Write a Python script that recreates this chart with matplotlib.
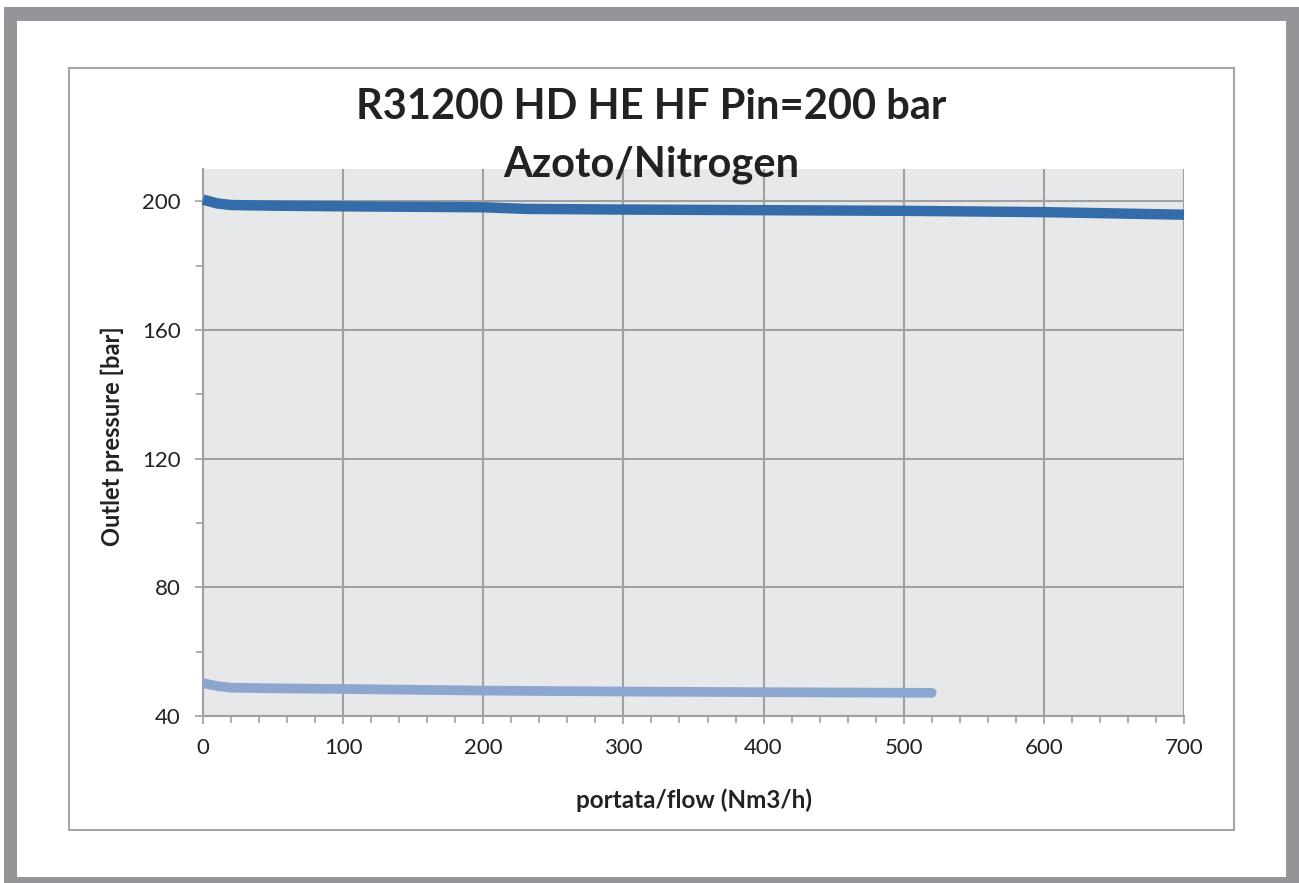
import matplotlib.pyplot as plt
from matplotlib.patches import Rectangle
from matplotlib.ticker import MultipleLocator

# flow (Nm3/h) vs outlet pressure (bar)
flow_high = [0, 10, 20, 50, 100, 200, 230, 300, 400, 500, 600, 700]
p_high = [200.5, 199.3, 198.8, 198.6, 198.4, 198.1, 197.6, 197.4, 197.2, 197.0, 196.6, 195.8]

flow_low = [0, 10, 20, 50, 100, 200, 300, 400, 520]
p_low = [50.2, 49.3, 48.8, 48.6, 48.4, 47.9, 47.6, 47.4, 47.2]

title = 'R31200 HD HE HF Pin=200 bar\nAzoto/Nitrogen'
xlabel = 'portata/flow (Nm3/h)'
ylabel = 'Outlet pressure [bar]'

W, H = 1299, 883
plt.rcParams['font.family'] = ['Lato', 'DejaVu Sans']
fig = plt.figure(figsize=(W / 100, H / 100), dpi=100)


def box(x0, y0, x1, y1, **kw):
    # pixel coords from top-left
    r = Rectangle((x0 / W, 1 - y1 / H), (x1 - x0) / W, (y1 - y0) / H,
                  transform=fig.transFigure, zorder=-10, **kw)
    fig.patches.append(r)


box(4, 7, 1305, 890, facecolor='#939598', edgecolor='none')
box(17, 21, 1286, 877, facecolor='white', edgecolor='none')
box(69, 68, 1234, 830, facecolor='none', edgecolor='#a6a6a6', linewidth=1.5)

ax = fig.add_axes([203 / W, 1 - 716 / H, (1184 - 203) / W, (716 - 169) / H])
ax.set_zorder(5)
ax.set_facecolor('#e7e8ea')

ax.plot(flow_high, p_high, color='#336ca8', linewidth=7.5, solid_capstyle='butt', zorder=3, clip_on=False)
ax.plot(flow_low, p_low, color='#8ca6cf', linewidth=7, solid_capstyle='round', zorder=3)

ax.set_xlim(0, 700)
ax.set_ylim(40, 210)
ax.xaxis.set_major_locator(MultipleLocator(100))
ax.xaxis.set_minor_locator(MultipleLocator(20))
ax.yaxis.set_major_locator(MultipleLocator(40))
ax.yaxis.set_minor_locator(MultipleLocator(20))
ax.grid(True, which='major', color='#a0a0a0', linewidth=1.5)
ax.set_axisbelow(True)

for s in ['top', 'right']:
    ax.spines[s].set_visible(False)
for s in ['left', 'bottom']:
    ax.spines[s].set_color('#a0a0a0')
    ax.spines[s].set_linewidth(1.5)

ax.tick_params(which='both', direction='out', color='#a0a0a0', width=1.2)
ax.tick_params(which='major', length=6, labelsize=16, pad=10, labelcolor='#222222')
ax.tick_params(which='minor', length=5)

fig.text(694 / W, 1 - 800 / H, xlabel, ha='center', va='center', fontsize=17.5, fontweight='bold',
         color='#222222')
fig.text(112 / W, 1 - 436 / H, ylabel, ha='center', va='center', rotation=90, fontsize=17, fontweight='bold',
         color='#222222')
fig.text(651 / W, 1 - 136 / H, title, ha='center', va='center', fontsize=30, fontweight='bold',
         linespacing=1.6, color='#222222', zorder=10)

fig.savefig('out.png', dpi=100)
